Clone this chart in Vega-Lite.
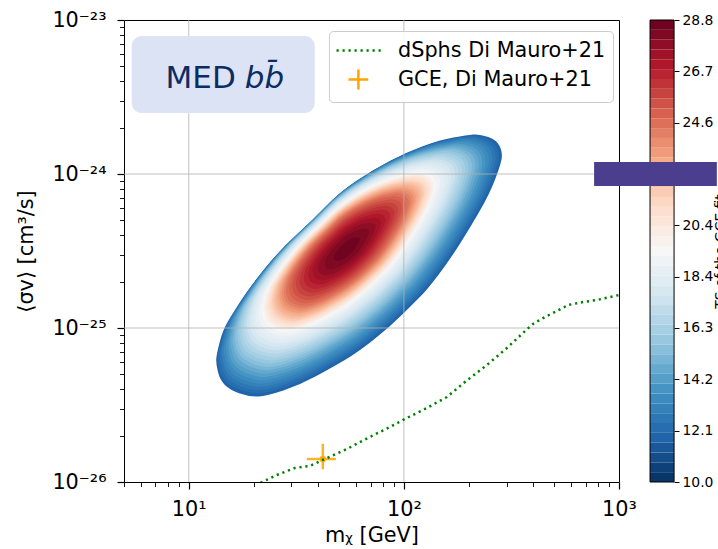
{
  "$schema": "https://vega.github.io/schema/vega-lite/v6.json",
  "width": 495,
  "height": 462,
  "autosize": {"type": "none"},
  "padding": {"left": 124, "top": 20, "right": 99, "bottom": 67},
  "background": "white",
  "config": {
    "view": {"stroke": "black", "strokeWidth": 1},
    "font": "DejaVu Sans",
    "axis": {"labelFont": "DejaVu Sans", "titleFont": "DejaVu Sans", "labelColor": "black", "titleColor": "black", "tickColor": "black", "titleFontWeight": "normal", "grid": false, "domain": false},
    "legend": {"labelFont": "DejaVu Sans"}
  },
  "datasets": {
    "lev": [
      {"ts":11.8,"m":62.09,"sv":2.546e-25},{"ts":12.2,"m":61.64,"sv":2.581e-25},{"ts":12.6,"m":61.20,"sv":2.615e-25},
      {"ts":13.0,"m":60.77,"sv":2.649e-25},{"ts":13.4,"m":60.35,"sv":2.682e-25},{"ts":13.8,"m":59.94,"sv":2.716e-25},
      {"ts":14.2,"m":59.55,"sv":2.749e-25},{"ts":14.6,"m":59.17,"sv":2.782e-25},{"ts":15.0,"m":58.80,"sv":2.815e-25},
      {"ts":15.4,"m":58.46,"sv":2.845e-25},{"ts":15.8,"m":58.13,"sv":2.874e-25},{"ts":16.2,"m":57.82,"sv":2.904e-25},
      {"ts":16.6,"m":57.51,"sv":2.932e-25},{"ts":17.0,"m":57.21,"sv":2.960e-25},{"ts":17.4,"m":56.92,"sv":2.988e-25},
      {"ts":17.8,"m":56.65,"sv":3.014e-25},{"ts":18.2,"m":56.39,"sv":3.040e-25},{"ts":18.6,"m":56.14,"sv":3.065e-25},
      {"ts":19.0,"m":55.90,"sv":3.089e-25},{"ts":19.4,"m":55.67,"sv":3.113e-25},{"ts":19.8,"m":55.58,"sv":3.122e-25},
      {"ts":20.2,"m":55.50,"sv":3.130e-25},{"ts":20.6,"m":55.42,"sv":3.139e-25},{"ts":21.0,"m":55.34,"sv":3.147e-25},
      {"ts":21.4,"m":55.26,"sv":3.156e-25},{"ts":21.8,"m":55.18,"sv":3.164e-25},{"ts":22.2,"m":55.11,"sv":3.172e-25},
      {"ts":22.6,"m":55.04,"sv":3.179e-25},{"ts":23.0,"m":54.96,"sv":3.187e-25},{"ts":23.4,"m":54.89,"sv":3.194e-25},
      {"ts":23.8,"m":54.83,"sv":3.201e-25},{"ts":24.2,"m":54.77,"sv":3.208e-25},{"ts":24.6,"m":54.71,"sv":3.214e-25},
      {"ts":25.0,"m":54.64,"sv":3.222e-25},{"ts":25.4,"m":54.57,"sv":3.229e-25},{"ts":25.8,"m":54.51,"sv":3.236e-25},
      {"ts":26.2,"m":54.46,"sv":3.242e-25},{"ts":26.6,"m":54.41,"sv":3.247e-25},{"ts":27.0,"m":54.37,"sv":3.252e-25},
      {"ts":27.4,"m":54.35,"sv":3.254e-25},{"ts":27.8,"m":54.33,"sv":3.255e-25},{"ts":28.2,"m":54.32,"sv":3.257e-25},
      {"ts":28.6,"m":54.31,"sv":3.258e-25}
    ],
    "cb": [
      {"lo":10.0,"hi":10.4,"mid":10.2},{"lo":10.4,"hi":10.8,"mid":10.6},{"lo":10.8,"hi":11.2,"mid":11.0},{"lo":11.2,"hi":11.6,"mid":11.4},
      {"lo":11.6,"hi":12.0,"mid":11.8},{"lo":12.0,"hi":12.4,"mid":12.2},{"lo":12.4,"hi":12.8,"mid":12.6},{"lo":12.8,"hi":13.2,"mid":13.0},
      {"lo":13.2,"hi":13.6,"mid":13.4},{"lo":13.6,"hi":14.0,"mid":13.8},{"lo":14.0,"hi":14.4,"mid":14.2},{"lo":14.4,"hi":14.8,"mid":14.6},
      {"lo":14.8,"hi":15.2,"mid":15.0},{"lo":15.2,"hi":15.6,"mid":15.4},{"lo":15.6,"hi":16.0,"mid":15.8},{"lo":16.0,"hi":16.4,"mid":16.2},
      {"lo":16.4,"hi":16.8,"mid":16.6},{"lo":16.8,"hi":17.2,"mid":17.0},{"lo":17.2,"hi":17.6,"mid":17.4},{"lo":17.6,"hi":18.0,"mid":17.8},
      {"lo":18.0,"hi":18.4,"mid":18.2},{"lo":18.4,"hi":18.8,"mid":18.6},{"lo":18.8,"hi":19.2,"mid":19.0},{"lo":19.2,"hi":19.6,"mid":19.4},
      {"lo":19.6,"hi":20.0,"mid":19.8},{"lo":20.0,"hi":20.4,"mid":20.2},{"lo":20.4,"hi":20.8,"mid":20.6},{"lo":20.8,"hi":21.2,"mid":21.0},
      {"lo":21.2,"hi":21.6,"mid":21.4},{"lo":21.6,"hi":22.0,"mid":21.8},{"lo":22.0,"hi":22.4,"mid":22.2},{"lo":22.4,"hi":22.8,"mid":22.6},
      {"lo":22.8,"hi":23.2,"mid":23.0},{"lo":23.2,"hi":23.6,"mid":23.4},{"lo":23.6,"hi":24.0,"mid":23.8},{"lo":24.0,"hi":24.4,"mid":24.2},
      {"lo":24.4,"hi":24.8,"mid":24.6},{"lo":24.8,"hi":25.2,"mid":25.0},{"lo":25.2,"hi":25.6,"mid":25.4},{"lo":25.6,"hi":26.0,"mid":25.8},
      {"lo":26.0,"hi":26.4,"mid":26.2},{"lo":26.4,"hi":26.8,"mid":26.6},{"lo":26.8,"hi":27.2,"mid":27.0},{"lo":27.2,"hi":27.6,"mid":27.4},
      {"lo":27.6,"hi":28.0,"mid":27.8},{"lo":28.0,"hi":28.4,"mid":28.2},{"lo":28.4,"hi":28.8,"mid":28.6}
    ],
    "dsph": [
      {"m":19.2,"sv":9.14e-27,"series":"dSphs Di Mauro+21"},{"m":25.67,"sv":1.110e-26,"series":"dSphs Di Mauro+21"},
      {"m":31.12,"sv":1.233e-26,"series":"dSphs Di Mauro+21"},{"m":36.54,"sv":1.271e-26,"series":"dSphs Di Mauro+21"},
      {"m":42.02,"sv":1.390e-26,"series":"dSphs Di Mauro+21"},{"m":54.31,"sv":1.637e-26,"series":"dSphs Di Mauro+21"},
      {"m":69.50,"sv":1.960e-26,"series":"dSphs Di Mauro+21"},{"m":86.08,"sv":2.276e-26,"series":"dSphs Di Mauro+21"},
      {"m":101.1,"sv":2.565e-26,"series":"dSphs Di Mauro+21"},{"m":127.9,"sv":3.022e-26,"series":"dSphs Di Mauro+21"},
      {"m":158.5,"sv":3.565e-26,"series":"dSphs Di Mauro+21"},{"m":192.2,"sv":4.461e-26,"series":"dSphs Di Mauro+21"},
      {"m":243.2,"sv":5.751e-26,"series":"dSphs Di Mauro+21"},{"m":301.3,"sv":7.417e-26,"series":"dSphs Di Mauro+21"},
      {"m":357.7,"sv":9.279e-26,"series":"dSphs Di Mauro+21"},{"m":398.1,"sv":1.062e-25,"series":"dSphs Di Mauro+21"},
      {"m":452.7,"sv":1.179e-25,"series":"dSphs Di Mauro+21"},{"m":514.7,"sv":1.289e-25,"series":"dSphs Di Mauro+21"},
      {"m":579.3,"sv":1.410e-25,"series":"dSphs Di Mauro+21"},{"m":680.3,"sv":1.475e-25,"series":"dSphs Di Mauro+21"},
      {"m":790.3,"sv":1.520e-25,"series":"dSphs Di Mauro+21"},{"m":908.1,"sv":1.589e-25,"series":"dSphs Di Mauro+21"},
      {"m":1000,"sv":1.637e-25,"series":"dSphs Di Mauro+21"}
    ],
    "gce": [
      {"m":42.0,"mlo":35.4,"mhi":48.3,"sv":1.41e-26,"svlo":1.21e-26,"svhi":1.77e-26,"series":"GCE, Di Mauro+21"}
    ],
    "gx": [{"g":10},{"g":100}],
    "gy": [{"g":1e-25},{"g":1e-24}]
  },
  "layer": [
    {
      "layer": [
        {
          "data": {"name": "lev"},
          "mark": {"type": "point", "filled": true, "opacity": 1, "strokeWidth": 0,
            "shape": "M0.76,-0.8735 Q0.803,-0.877 0.86,-0.857 Q0.917,-0.837 0.937,-0.7935 Q0.957,-0.75 0.947,-0.7035 Q0.937,-0.657 0.9035,-0.57 Q0.87,-0.483 0.8135,-0.383 Q0.757,-0.283 0.68,-0.16 Q0.603,-0.037 0.5265,0.063 Q0.45,0.163 0.4165,0.1965 Q0.383,0.23 0.293,0.32 Q0.203,0.41 0.093,0.4965 Q-0.017,0.583 -0.097,0.63 Q-0.177,0.677 -0.287,0.737 Q-0.397,0.797 -0.507,0.8335 Q-0.617,0.87 -0.6735,0.8735 Q-0.73,0.877 -0.7965,0.8535 Q-0.863,0.83 -0.8965,0.7965 Q-0.93,0.763 -0.9435,0.7065 Q-0.957,0.65 -0.9535,0.6165 Q-0.95,0.583 -0.93,0.5065 Q-0.91,0.43 -0.8765,0.3735 Q-0.843,0.317 -0.7865,0.23 Q-0.73,0.143 -0.63,0.02 Q-0.53,-0.103 -0.42,-0.203 Q-0.31,-0.303 -0.22,-0.3965 Q-0.13,-0.49 -0.02,-0.5635 Q0.09,-0.637 0.2035,-0.697 Q0.317,-0.757 0.427,-0.797 Q0.537,-0.837 0.627,-0.8535 Q0.717,-0.87 0.76,-0.8735Z"},
          "encoding": {
            "x": {"field": "m", "type": "quantitative",
              "scale": {"type": "log", "domain": [5, 1000], "nice": false},
              "axis": {"values": [5,6,7,8,9,10,20,30,40,50,60,70,80,90,100,200,300,400,500,600,700,800,900,1000],
                "labelExpr": "datum.value == 10 ? '10¹' : datum.value == 100 ? '10²' : datum.value == 1000 ? '10³' : ''",
                "grid": false, "domain": false, "labelFlush": false, "labelOverlap": false,
                "tickSize": {"condition": {"test": "datum.value == 10 || datum.value == 100 || datum.value == 1000", "value": 7}, "value": 4.5},
                "tickWidth": {"condition": {"test": "datum.value == 10 || datum.value == 100 || datum.value == 1000", "value": 1.2}, "value": 0.9},
                "labelFontSize": 20.8, "labelPadding": 10,
                "title": "mᵪ [GeV]", "titleFontSize": 20.8, "titlePadding": 9, "minExtent": 34, "maxExtent": 34}},
            "y": {"field": "sv", "type": "quantitative",
              "scale": {"type": "log", "domain": [1e-26, 1e-23], "nice": false},
              "axis": {"orient": "left",
                "values": [1e-26,2e-26,3e-26,4e-26,5e-26,6e-26,7e-26,8e-26,9e-26,1e-25,2e-25,3e-25,4e-25,5e-25,6e-25,7e-25,8e-25,9e-25,1e-24,2e-24,3e-24,4e-24,5e-24,6e-24,7e-24,8e-24,9e-24,1e-23],
                "labelExpr": "datum.value == 1e-26 ? '10⁻²⁶' : datum.value == 1e-25 ? '10⁻²⁵' : datum.value == 1e-24 ? '10⁻²⁴' : datum.value == 1e-23 ? '10⁻²³' : ''",
                "grid": false, "domain": false, "labelFlush": false, "labelOverlap": false,
                "tickSize": {"condition": {"test": "datum.value == 1e-26 || datum.value == 1e-25 || datum.value == 1e-24 || datum.value == 1e-23", "value": 7}, "value": 4.5},
                "tickWidth": {"condition": {"test": "datum.value == 1e-26 || datum.value == 1e-25 || datum.value == 1e-24 || datum.value == 1e-23", "value": 1.2}, "value": 0.9},
                "labelFontSize": 20.8, "labelPadding": 11,
                "title": "⟨σv⟩ [cm³/s]", "titleFontSize": 20.8, "titlePadding": 6, "minExtent": 82, "maxExtent": 82}},
            "fill": {"field": "ts", "type": "quantitative", "legend": null,
              "scale": {"type": "linear", "domain": [10,11.88,13.76,15.64,17.52,19.4,21.28,23.16,25.04,26.92,28.8],
                "range": ["#053061","#2166ac","#4393c3","#92c5de","#d1e5f0","#f7f7f7","#fddbc7","#f4a582","#d6604d","#b2182b","#67001f"], "interpolate": "rgb"}},
            "size": {"field": "ts", "type": "quantitative", "legend": null,
              "scale": {"type": "linear", "domain": [11.8,15,19.4,24.6,27,28.8], "range": [90000,65025,33489,16641,6561,0], "zero": false, "nice": false}}
          }
        },
        {
          "data": {"name": "gx"},
          "mark": {"type": "rule", "color": "#b0b0b0", "strokeWidth": 0.8},
          "encoding": {"x": {"field": "g", "type": "quantitative"}}
        },
        {
          "data": {"name": "gy"},
          "mark": {"type": "rule", "color": "#b0b0b0", "strokeWidth": 0.8},
          "encoding": {"y": {"field": "g", "type": "quantitative"}}
        },
        {
          "data": {"name": "gce"},
          "mark": {"type": "rule", "strokeWidth": 2.5, "opacity": 0.85},
          "encoding": {
            "x": {"field": "mlo", "type": "quantitative"},
            "x2": {"field": "mhi"},
            "y": {"field": "sv", "type": "quantitative"},
            "stroke": {"field": "series", "type": "nominal"}
          }
        },
        {
          "data": {"name": "gce"},
          "mark": {"type": "rule", "strokeWidth": 2.5, "opacity": 0.85},
          "encoding": {
            "x": {"field": "m", "type": "quantitative"},
            "y": {"field": "svlo", "type": "quantitative"},
            "y2": {"field": "svhi"},
            "stroke": {"field": "series", "type": "nominal"}
          }
        },
        {
          "data": {"name": "gce"},
          "mark": {"type": "point", "shape": "square", "filled": true, "size": 28, "color": "#ffa500", "opacity": 1},
          "encoding": {
            "x": {"field": "m", "type": "quantitative"},
            "y": {"field": "sv", "type": "quantitative"}
          }
        },
        {
          "data": {"name": "dsph"},
          "mark": {"type": "line", "strokeDash": [2.2, 3.8], "strokeWidth": 2.5, "clip": true, "strokeCap": "butt"},
          "encoding": {
            "x": {"field": "m", "type": "quantitative"},
            "y": {"field": "sv", "type": "quantitative"},
            "stroke": {"field": "series", "type": "nominal",
              "scale": {"domain": ["dSphs Di Mauro+21", "GCE, Di Mauro+21"], "range": ["#008000", "#ffa500"]},
              "legend": {"orient": "none", "legendX": 205, "legendY": 11, "title": null,
                "labelFontSize": 20.8, "labelColor": "black", "labelLimit": 400, "labelOffset": 37,
                "symbolType": "stroke", "symbolSize": 484, "symbolStrokeWidth": 2.5,
                "rowPadding": 3, "padding": 7, "fillColor": "rgba(255,255,255,0.85)", "strokeColor": "#cccccc", "cornerRadius": 4,
                "encode": {"symbols": {"update": {
                  "shape": {"signal": "datum.value === 'dSphs Di Mauro+21' ? 'M-1.09,0H3.09' : 'M0,0H1.8M0.9,-0.9V0.9'"},
                  "strokeDash": {"signal": "datum.value === 'dSphs Di Mauro+21' ? [2.2,3.8] : [1,0]"},
                  "size": {"value": 484},
                  "strokeWidth": {"value": 2.5}
                }}}}}
          }
        },
        {
          "data": {"values": [{}]},
          "mark": {"type": "rect", "cornerRadius": 10, "color": "#dce3f4"},
          "encoding": {"x": {"datum": 5.43}, "x2": {"datum": 38.5}, "y": {"datum": 7.87e-24}, "y2": {"datum": 2.49e-24}}
        },
        {
          "data": {"values": [{}]},
          "mark": {"type": "text", "text": "MED", "align": "right", "baseline": "alphabetic", "fontSize": 31, "color": "#0c2c62", "font": "DejaVu Sans"},
          "encoding": {"x": {"datum": 16.54}, "y": {"datum": 3.62e-24}}
        },
        {
          "data": {"values": [{}]},
          "mark": {"type": "text", "text": "bb̄", "align": "left", "baseline": "alphabetic", "fontSize": 31, "fontStyle": "italic", "color": "#0c2c62", "font": "DejaVu Sans"},
          "encoding": {"x": {"datum": 18.22}, "y": {"datum": 3.62e-24}}
        }
      ]
    },
    {
      "layer": [
        {
          "data": {"name": "cb"},
          "mark": {"type": "rect"},
          "encoding": {
            "x": {"datum": 1394},
            "x2": {"datum": 1803},
            "y": {"field": "lo", "type": "quantitative",
              "scale": {"domain": [10, 28.8], "nice": false, "zero": false},
              "axis": {"orient": "right", "offset": 55,
                "values": [10, 12.0889, 14.1778, 16.2667, 18.3556, 20.4444, 22.5333, 24.6222, 26.7111, 28.8],
                "format": ".1f", "grid": false, "domain": false, "labelFlush": false, "labelOverlap": false,
                "tickSize": 5, "tickWidth": 1, "labelFontSize": 13.9, "labelPadding": 3,
                "title": "TS of the GCE fit", "titleFontSize": 13.9, "titleAngle": 270, "titlePadding": 15}},
            "y2": {"field": "hi"},
            "fill": {"field": "mid", "type": "quantitative", "legend": null,
              "scale": {"type": "linear", "domain": [10,11.88,13.76,15.64,17.52,19.4,21.28,23.16,25.04,26.92,28.8],
                "range": ["#053061","#2166ac","#4393c3","#92c5de","#d1e5f0","#f7f7f7","#fddbc7","#f4a582","#d6604d","#b2182b","#67001f"], "interpolate": "rgb"}}
          }
        },
        {
          "data": {"values": [{}]},
          "mark": {"type": "rect", "fillOpacity": 0, "stroke": "black", "strokeWidth": 1},
          "encoding": {"x": {"datum": 1394}, "x2": {"datum": 1803}, "y": {"datum": 10}, "y2": {"datum": 28.8}}
        },
        {
          "data": {"values": [{}]},
          "mark": {"type": "rect", "color": "#4b3e8e"},
          "encoding": {"x": {"datum": 766}, "x2": {"datum": 2850}, "y": {"datum": 22.05}, "y2": {"datum": 23.02}}
        }
      ]
    }
  ],
  "resolve": {"scale": {"y": "independent"}}
}
